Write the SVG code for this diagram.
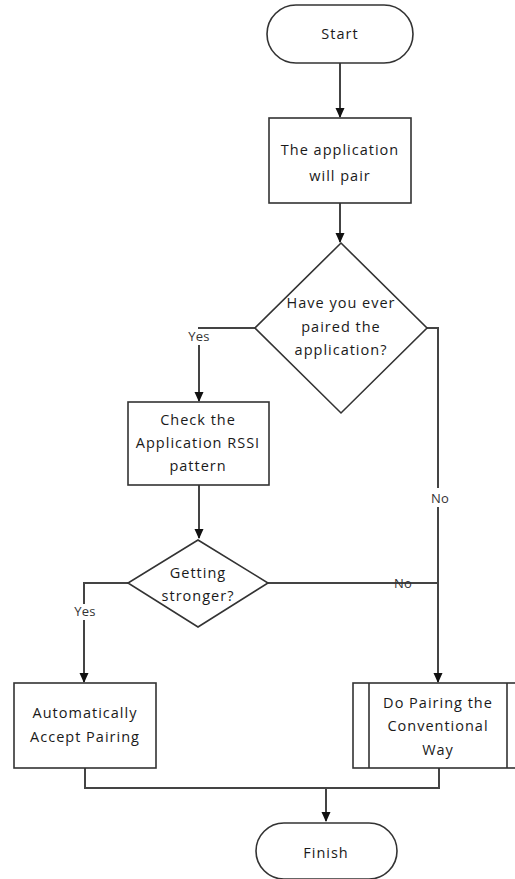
<svg xmlns="http://www.w3.org/2000/svg" width="515" height="879" viewBox="0 0 515 879">
<style>
.n{fill:#fff;stroke:#333;stroke-width:1.6}
.c{fill:none;stroke:#444;stroke-width:2}
.t{font-family:"Open Sans","Liberation Sans",sans-serif;font-size:14.5px;fill:#1a1a1a;text-anchor:middle;letter-spacing:1px}
.l{font-family:"Open Sans","Liberation Sans",sans-serif;font-size:13px;fill:#333;text-anchor:middle;letter-spacing:0.3px}
.bg{fill:#fff}
</style>
<defs>
<marker id="a" markerWidth="10" markerHeight="10" refX="9" refY="5" orient="auto" markerUnits="userSpaceOnUse">
<path d="M0,0.5 L10,5 L0,9.5 Z" fill="#111"/>
</marker>
</defs>
<g id="connectors">
<path class="c" d="M340,63 V117" marker-end="url(#a)"/>
<path class="c" d="M340,203 V242" marker-end="url(#a)"/>
<path class="c" d="M255,328 H199 V401" marker-end="url(#a)"/>
<path class="c" d="M427,328 H438 V682" marker-end="url(#a)"/>
<path class="c" d="M199,485 V538" marker-end="url(#a)"/>
<path class="c" d="M128,583 H84 V682" marker-end="url(#a)"/>
<path class="c" d="M268,583 H438"/>
<path class="c" d="M85,768 V788 H439 V768"/>
<path class="c" d="M326,788 V821" marker-end="url(#a)"/>
<rect class="bg" x="184" y="329" width="30" height="16"/>
<text class="l" x="199" y="341">Yes</text>
<rect class="bg" x="70" y="604" width="30" height="16"/>
<text class="l" x="85" y="616">Yes</text>
<rect class="bg" x="428" y="488" width="22" height="19"/>
<text class="l" x="440" y="503">No</text>
<text class="l" x="403" y="588">No</text>
</g>
<g id="start">
<rect class="n" x="267" y="5" width="146" height="58" rx="29"/>
<text class="t" x="340" y="39">Start</text>
</g>
<g id="pair">
<rect class="n" x="269" y="118" width="142" height="85"/>
<text class="t" x="340" y="155">The application</text>
<text class="t" x="340" y="181">will pair</text>
</g>
<g id="ever-paired">
<path class="n" d="M341,243 L427,328 L341,413 L255,328 Z"/>
<text class="t" x="341" y="308">Have you ever</text>
<text class="t" x="341" y="332">paired the</text>
<text class="t" x="341" y="355">application?</text>
</g>
<g id="check">
<rect class="n" x="128" y="402" width="141" height="83"/>
<text class="t" x="198" y="425">Check the</text>
<text class="t" x="198" y="448">Application RSSI</text>
<text class="t" x="198" y="471">pattern</text>
</g>
<g id="stronger">
<path class="n" d="M198,540 L268,583 L198,627 L128,583 Z"/>
<text class="t" x="198" y="578">Getting</text>
<text class="t" x="198" y="601">stronger?</text>
</g>
<g id="auto">
<rect class="n" x="14" y="683" width="142" height="85"/>
<text class="t" x="85" y="718">Automatically</text>
<text class="t" x="85" y="742">Accept Pairing</text>
</g>
<g id="conventional">
<rect class="n" x="353" y="683" width="170" height="85"/>
<line class="n" x1="369" y1="683" x2="369" y2="768"/>
<line class="n" x1="507" y1="683" x2="507" y2="768"/>
<text class="t" x="438" y="708">Do Pairing the</text>
<text class="t" x="438" y="731">Conventional</text>
<text class="t" x="438" y="755">Way</text>
</g>
<g id="finish">
<rect class="n" x="256" y="823" width="141" height="56" rx="28"/>
<text class="t" x="326" y="858">Finish</text>
</g>
</svg>
